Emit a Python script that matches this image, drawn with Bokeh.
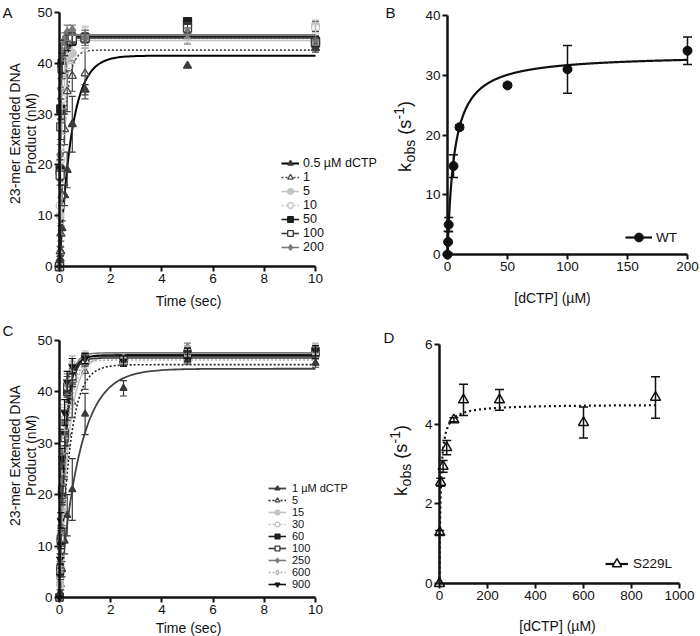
import numpy as np
from bokeh.plotting import figure
from bokeh.models import (ColumnDataSource, Whisker, TeeHead, Label, Legend,
                          LegendItem, FixedTicker, Range1d)
from bokeh.layouts import row, column
from bokeh.embed import file_html
from bokeh.resources import INLINE

FONT = "Liberation Sans"
INK = "#111111"

# ---------------- Panel A : WT product time courses ----------------
a_time = [0, 0.025, 0.05, 0.1, 0.2, 0.3, 0.5, 1, 5, 10]
a_labels = ["0.5 \u00b5M dCTP", "1", "5", "10", "50", "100", "200"]
a_y_0p5 = [0, 1.5, 3.0, 7.5, 14.0, 19.0, 28.0, 34.8, 39.5, 43.0]
a_e_0p5 = [0, 0.5, 0.8, 1.5, 2.0, 3.5, 5.5, 1.0, 0.0, 0.8]
a_y_1 = [0, 3.0, 6.5, 14.0, 27.0, 34.5, 37.5, 38.0, 45.3, 47.3]
a_e_1 = [0, 1.0, 1.5, 2.0, 3.0, 4.0, 3.0, 5.0, 1.5, 1.0]
a_y_5 = [0, 10.0, 18.5, 29.0, 38.0, 41.0, 42.0, 44.8, 45.5, 47.5]
a_e_5 = [0, 1.5, 2.0, 3.0, 2.5, 2.0, 2.0, 2.5, 1.5, 1.0]
a_y_10 = [0, 12.0, 21.0, 33.0, 40.0, 42.5, 44.0, 45.0, 46.0, 47.0]
a_e_10 = [0, 1.5, 2.0, 2.0, 2.0, 2.0, 1.5, 2.0, 1.0, 1.0]
a_y_50 = [0, 19.0, 31.0, 40.0, 43.0, 44.0, 44.5, 45.0, 48.2, 44.3]
a_e_50 = [0, 2.0, 2.0, 2.0, 1.5, 1.5, 1.0, 1.0, 0.5, 1.0]
a_y_100 = [0, 18.0, 27.5, 39.0, 43.0, 44.5, 45.0, 45.0, 47.0, 44.0]
a_e_100 = [0, 2.0, 2.5, 2.0, 1.5, 1.5, 1.0, 1.5, 1.0, 1.0]
a_y_200 = [0, 22.0, 35.0, 42.0, 44.5, 46.0, 46.5, 45.0, 46.0, 44.5]
a_e_200 = [0, 2.0, 2.0, 1.5, 1.5, 1.5, 1.0, 1.5, 1.0, 1.0]
a_amp = [41.5, 42.6, 44.5, 44.9, 45.3, 45.0, 45.6]   # fitted plateau (nM)

# ---------------- Panel B : WT kobs vs [dCTP] ----------------
b_conc = [0, 0.5, 1, 5, 10, 50, 100, 200]
b_kobs = [0, 2.1, 5.0, 14.8, 21.3, 28.3, 31.0, 34.1]
b_err = [0, 1.8, 1.2, 1.9, 0.4, 0.3, 4.0, 2.3]
b_kpol, b_kd = 33.5, 5.7

# ---------------- Panel C : S229L product time courses ----------------
c_time = [0, 0.025, 0.05, 0.1, 0.2, 0.3, 0.5, 1, 2.5, 5, 10]
c_labels = ["1 \u00b5M dCTP", "5", "15", "30", "60", "100", "250", "600", "900"]
c_y_1 = [0, 1.0, 2.5, 5.5, 11.0, 16.0, 21.0, 35.7, 40.7, 46.2, 45.6]
c_e_1 = [0, 0.5, 1.0, 1.5, 2.5, 4.0, 6.0, 4.0, 1.5, 0.8, 0.8]
c_y_5 = [0, 4.0, 8.0, 17.0, 27.0, 32.0, 38.0, 44.0, 46.5, 47.0, 47.5]
c_e_5 = [0, 1.0, 1.5, 3.0, 4.0, 2.5, 3.0, 3.5, 1.0, 1.0, 1.0]
c_y_15 = [0, 2.5, 7.0, 17.0, 31.0, 40.0, 43.5, 46.0, 46.0, 48.0, 48.0]
c_e_15 = [0, 0.8, 1.5, 2.5, 3.0, 2.5, 2.0, 1.5, 1.0, 1.0, 1.0]
c_y_30 = [0, 4.0, 9.5, 21.0, 34.0, 41.0, 44.0, 46.5, 46.0, 47.5, 48.3]
c_e_30 = [0, 1.0, 1.5, 2.5, 3.0, 2.0, 2.0, 1.5, 1.0, 1.0, 1.0]
c_y_60 = [0, 5.5, 11.0, 20.0, 32.0, 40.0, 42.5, 46.5, 46.5, 47.0, 47.5]
c_e_60 = [0, 1.0, 1.5, 2.0, 2.5, 2.0, 1.5, 1.0, 1.0, 1.0, 1.0]
c_y_100 = [0, 5.0, 11.5, 21.0, 31.0, 41.0, 43.0, 46.0, 46.0, 47.5, 48.0]
c_e_100 = [0, 1.0, 1.5, 2.5, 3.0, 2.0, 1.5, 1.0, 1.0, 1.0, 1.0]
c_y_250 = [0, 6.0, 12.5, 24.0, 34.0, 41.5, 45.0, 46.5, 46.5, 48.5, 48.0]
c_e_250 = [0, 1.0, 1.5, 2.0, 2.5, 2.0, 1.5, 1.0, 1.0, 1.0, 1.0]
c_y_600 = [0, 7.0, 14.0, 26.0, 35.0, 42.0, 45.5, 46.5, 46.5, 48.0, 48.5]
c_e_600 = [0, 1.0, 1.5, 2.0, 2.5, 2.0, 1.5, 1.0, 1.0, 1.0, 1.0]
c_y_900 = [0, 7.5, 15.0, 27.0, 36.0, 42.0, 45.0, 46.5, 46.0, 47.5, 48.0]
c_e_900 = [0, 1.0, 1.5, 2.0, 2.5, 2.0, 1.5, 1.0, 1.0, 1.0, 1.0]
c_amp = [44.5, 45.3, 47.0, 46.8, 47.2, 46.6, 47.6, 46.2, 47.0]

# ---------------- Panel D : S229L kobs vs [dCTP] ----------------
d_conc = [0, 1, 5, 15, 30, 60, 100, 250, 600, 900]
d_kobs = [0, 1.28, 2.54, 2.94, 3.41, 4.11, 4.61, 4.61, 4.04, 4.67]
d_err = [0, 0.05, 0.1, 0.15, 0.18, 0.05, 0.39, 0.26, 0.39, 0.52]
d_kpol, d_kd = 4.5, 5.0

# ---------------- styles ----------------
a_styles = [
    dict(marker="triangle", fill="#3a3a3a", mc="#3a3a3a", lc="#000000", lw=2.0, dash="solid", size=8),
    dict(marker="triangle", fill="white", mc="#4a4a4a", lc="#4a4a4a", lw=1.6, dash="2 2", size=8),
    dict(marker="circle", fill="#c4c4c4", mc="#c4c4c4", lc="#c4c4c4", lw=1.6, dash="solid", size=8),
    dict(marker="circle", fill="white", mc="#c4c4c4", lc="#c4c4c4", lw=1.6, dash="2 2", size=8),
    dict(marker="square", fill="#1e1e1e", mc="#1e1e1e", lc="#1e1e1e", lw=1.6, dash="solid", size=8),
    dict(marker="square", fill="white", mc="#3a3a3a", lc="#3a3a3a", lw=1.6, dash="solid", size=8),
    dict(marker="diamond", fill="#7a7a7a", mc="#7a7a7a", lc="#7a7a7a", lw=1.6, dash="solid", size=10),
]
c_styles = [
    dict(marker="triangle", fill="#3a3a3a", mc="#3a3a3a", lc="#444444", lw=1.8, dash="solid", size=7),
    dict(marker="triangle", fill="white", mc="#4a4a4a", lc="#222222", lw=1.6, dash="2 2", size=7),
    dict(marker="circle", fill="#c4c4c4", mc="#c4c4c4", lc="#c4c4c4", lw=1.6, dash="solid", size=7),
    dict(marker="circle", fill="white", mc="#c4c4c4", lc="#c4c4c4", lw=1.6, dash="2 2", size=7),
    dict(marker="square", fill="#1e1e1e", mc="#1e1e1e", lc="#1e1e1e", lw=1.6, dash="solid", size=7),
    dict(marker="square", fill="white", mc="#3a3a3a", lc="#3a3a3a", lw=1.6, dash="solid", size=7),
    dict(marker="diamond", fill="#7a7a7a", mc="#7a7a7a", lc="#7a7a7a", lw=1.6, dash="solid", size=9),
    dict(marker="diamond", fill="white", mc="#b0b0b0", lc="#b0b0b0", lw=1.6, dash="2 2", size=9),
    dict(marker="inverted_triangle", fill="#111111", mc="#111111", lc="#111111", lw=1.6, dash="solid", size=7),
]


class Panel:
    """A figure whose frame fills the whole canvas; axes sit at data 0."""

    def __init__(self, ox, oy, w, h, xpx, ypx, xb, yb, xticks, yticks):
        # xpx = page x of data xb[0] and xb[1]; ypx = page y of data yb[0] and yb[1]
        self.ox, self.oy, self.w, self.h = ox, oy, w, h
        sx = (xpx[1] - xpx[0]) / (xb[1] - xb[0])
        sy = (ypx[0] - ypx[1]) / (yb[1] - yb[0])
        x0 = xb[0] + (ox - xpx[0]) / sx
        x1 = xb[0] + (ox + w - xpx[0]) / sx
        y0 = yb[0] - (oy + h - ypx[0]) / sy
        y1 = yb[0] + (ypx[0] - oy) / sy
        p = figure(width=w, height=h, x_range=Range1d(x0, x1), y_range=Range1d(y0, y1),
                   output_backend="svg", toolbar_location=None, title=None,
                   min_border_left=0, min_border_right=0,
                   min_border_top=0, min_border_bottom=0)
        p.outline_line_color = None
        p.grid.visible = False
        p.background_fill_color = "white"
        p.border_fill_color = "white"
        for ax, ticks, bnd in ((p.xaxis, xticks, xb), (p.yaxis, yticks, yb)):
            ax.ticker = FixedTicker(ticks=ticks)
            ax.fixed_location = 0
            ax.bounds = bnd
            ax.axis_line_width = 2.5
            ax.axis_line_color = INK
            ax.major_tick_line_width = 2
            ax.major_tick_line_color = INK
            ax.major_tick_out = 5
            ax.major_tick_in = 0
            ax.minor_tick_line_color = None
            ax.major_label_standoff = 2
            ax.major_label_text_font = FONT
            ax.major_label_text_font_size = "13.5px"
            ax.major_label_text_color = INK
        self.p = p

    def text(self, page_x, page_y, text, size, angle=0.0, align="center", baseline="middle"):
        self.p.add_layout(Label(x=page_x - self.ox, y=(self.oy + self.h) - page_y,
                                x_units="screen", y_units="screen", text=text,
                                angle=angle, text_align=align, text_baseline=baseline,
                                text_font=FONT, text_font_size=f"{size}px",
                                text_color=INK))

    def kobs_label(self, cx, y_center):
        pieces = [("k", 18, 0.0, 0), ("obs", 14, 9.5, 5), ("(s", 18, 37.1, 0),
                  ("-1", 14, 52.4, -6), (")", 18, 64.8, 0)]
        y_start = y_center + 35.4
        for txt, size, off, dx in pieces:
            self.text(cx + dx, y_start - off, txt, size, angle=np.pi / 2,
                      align="left", baseline="middle")

    def legend(self, items, font, gw, gh, spacing, standoff, page_left, page_bottom):
        lg = Legend(items=items)
        lg.location = (page_left - self.ox, (self.oy + self.h) - page_bottom)
        lg.border_line_color = None
        lg.background_fill_alpha = 0
        lg.padding = 0
        lg.margin = 0
        lg.spacing = spacing
        lg.glyph_width = gw
        lg.glyph_height = gh
        lg.label_height = gh
        lg.label_standoff = standoff
        lg.label_text_font = FONT
        lg.label_text_font_size = f"{font}px"
        lg.label_text_color = INK
        self.p.add_layout(lg)


def add_whiskers(p, x, y, err, color, width=1.2, head=7):
    x, y, err = np.asarray(x, float), np.asarray(y, float), np.asarray(err, float)
    m = err > 0
    src = ColumnDataSource(dict(x=x[m], lo=y[m] - err[m], hi=y[m] + err[m]))
    w = Whisker(source=src, base="x", lower="lo", upper="hi", dimension="height",
                line_color=color, line_width=width, level="glyph",
                upper_head=TeeHead(size=head, line_color=color, line_width=width),
                lower_head=TeeHead(size=head, line_color=color, line_width=width))
    p.add_layout(w)


def add_course(p, t, y, err, amp, k, st, t_fit):
    yfit = amp * (1.0 - np.exp(-k * t_fit))
    lr = p.line(t_fit, yfit, line_color=st["lc"], line_width=st["lw"],
                line_dash=st["dash"])
    add_whiskers(p, t, y, err, st["mc"])
    sr = p.scatter(t, y, marker=st["marker"], size=st["size"],
                   fill_color=st["fill"], line_color=st["mc"], line_width=1.3)
    return lr, sr


t_fit = np.concatenate([np.linspace(0, 1, 201), np.linspace(1, 10, 91)[1:]])

# ================= Panel A =================
A = Panel(0, 0, 380, 316, (59, 315), (266, 12), (0, 10), (0, 50),
          [0, 2, 4, 6, 8, 10], [0, 10, 20, 30, 40, 50])
a_ys = [a_y_0p5, a_y_1, a_y_5, a_y_10, a_y_50, a_y_100, a_y_200]
a_es = [a_e_0p5, a_e_1, a_e_5, a_e_10, a_e_50, a_e_100, a_e_200]
itemsA = []
for lab, ys, es, amp, k, st in zip(a_labels, a_ys, a_es, a_amp, b_kobs[1:], a_styles):
    lr, sr = add_course(A.p, a_time, ys, es, amp, k, st, t_fit)
    itemsA.append(LegendItem(label=lab, renderers=[lr, sr]))
A.legend(itemsA, 12.5, 18, 14, 0, 4, 281, 254)
A.text(188, 300, "Time (sec)", 14)
A.text(14, 133, "23-mer Extended DNA", 14, angle=np.pi / 2)
A.text(30, 133, "Product (nM)", 14, angle=np.pi / 2)
A.text(2, 3, "A", 15, align="left", baseline="top")

# ================= Panel B =================
B = Panel(380, 0, 320, 316, (447, 687), (254, 15), (0, 200), (0, 40),
          [0, 50, 100, 150, 200], [0, 10, 20, 30, 40])
s_fit_b = np.linspace(0, 200, 801)
lrB = B.p.line(s_fit_b, b_kpol * s_fit_b / (b_kd + s_fit_b), line_color=INK, line_width=2.2)
add_whiskers(B.p, b_conc, b_kobs, b_err, INK, width=1.5, head=9)
srB = B.p.scatter(b_conc, b_kobs, marker="circle", size=9, fill_color=INK, line_color=INK)
B.legend([LegendItem(label="WT", renderers=[lrB, srB])], 13.5, 27, 22, 0, 4, 625, 248)
B.text(552, 297, "[dCTP] (\u00b5M)", 14)
B.kobs_label(404, 136)
B.text(385, 3, "B", 15, align="left", baseline="top")

# ================= Panel C =================
C = Panel(0, 316, 380, 320, (59, 315), (597, 340), (0, 10), (0, 50),
          [0, 2, 4, 6, 8, 10], [0, 10, 20, 30, 40, 50])
c_ys = [c_y_1, c_y_5, c_y_15, c_y_30, c_y_60, c_y_100, c_y_250, c_y_600, c_y_900]
c_es = [c_e_1, c_e_5, c_e_15, c_e_30, c_e_60, c_e_100, c_e_250, c_e_600, c_e_900]
itemsC = []
for lab, ys, es, amp, k, st in zip(c_labels, c_ys, c_es, c_amp, d_kobs[1:], c_styles):
    lr, sr = add_course(C.p, c_time, ys, es, amp, k, st, t_fit)
    itemsC.append(LegendItem(label=lab, renderers=[lr, sr]))
C.legend(itemsC, 11, 18, 12, 0, 6, 268, 590)
C.text(188, 627, "Time (sec)", 14)
C.text(14, 455, "23-mer Extended DNA", 14, angle=np.pi / 2)
C.text(30, 455, "Product (nM)", 14, angle=np.pi / 2)
C.text(2, 321, "C", 15, align="left", baseline="top")

# ================= Panel D =================
D = Panel(380, 316, 320, 320, (439, 679), (583, 344), (0, 1000), (0, 6),
          [0, 200, 400, 600, 800, 1000], [0, 2, 4, 6])
s_fit_d = np.linspace(0, 900, 901)
D.p.line(s_fit_d, d_kpol * s_fit_d / (d_kd + s_fit_d), line_color=INK,
         line_width=2.2, line_dash="2 3")
add_whiskers(D.p, d_conc, d_kobs, d_err, INK, width=1.5, head=9)
srD = D.p.scatter(d_conc, d_kobs, marker="triangle", size=10, fill_color="white",
                  line_color=INK, line_width=1.5)
lrDleg = D.p.line([0, 0], [0, 0], line_color=INK, line_width=2.2)
D.legend([LegendItem(label="S229L", renderers=[lrDleg, srD])], 13.5, 23, 23, 0, 5, 605, 575)
D.text(557, 625, "[dCTP] (\u00b5M)", 14)
D.kobs_label(400, 460)
D.text(383, 328, "D", 15, align="left", baseline="top")

layout = column(row(A.p, B.p), row(C.p, D.p))
open("out.html", "w").write(file_html(layout, INLINE))
